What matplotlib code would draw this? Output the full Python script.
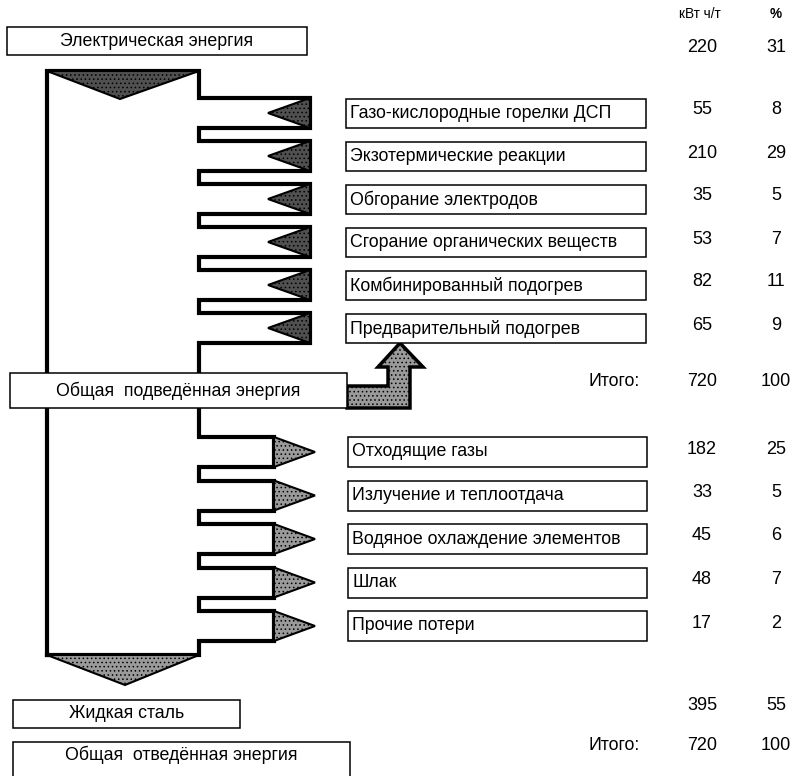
import matplotlib.pyplot as plt
from matplotlib.patches import Polygon, Rectangle

plt.rcParams['font.family'] = ['Liberation Sans', 'DejaVu Sans']
plt.rcParams['hatch.linewidth'] = 0.6

# ─── data ─────────────────────────────────────────────
col_headers = ['кВт ч/т', '%']
src_label = 'Электрическая энергия'
src_kwh, src_pct = 220, 31

in_labels = ['Газо-кислородные горелки ДСП', 'Экзотермические реакции',
             'Обгорание электродов', 'Сгорание органических веществ',
             'Комбинированный подогрев', 'Предварительный подогрев']
in_kwh = [55, 210, 35, 53, 82, 65]
in_pct = [8, 29, 5, 7, 11, 9]
in_total_label = 'Общая  подведённая энергия'
in_total_kwh, in_total_pct = 720, 100

out_labels = ['Отходящие газы', 'Излучение и теплоотдача',
              'Водяное охлаждение элементов', 'Шлак', 'Прочие потери']
out_kwh = [182, 33, 45, 48, 17]
out_pct = [25, 5, 6, 7, 2]
steel_label = 'Жидкая сталь'
steel_kwh, steel_pct = 395, 55
out_total_label = 'Общая  отведённая энергия'
out_total_kwh, out_total_pct = 720, 100

# ─── layout (pixels, y down) ──────────────────────────
W, H = 796, 776
L, R, TOP, BOT = 47, 199, 71, 655
IN_Y0, IN_STEP, BR_H = 98, 43, 30
OUT_Y0, OUT_STEP = 437, 43.5
X_IN, X_IN_TIP = 310, 268
X_OUT, X_OUT_TIP = 274, 315
BOX_X0, BOX_X1 = 346, 646
X_KWH, X_PCT = 702, 776
FS, FS_VAL = 12.8, 13
DARK, LIGHT = '#505050', '#9a9a9a'

fig = plt.figure(figsize=(W / 100, H / 100), dpi=100)
ax = fig.add_axes([0, 0, 1, 1])
ax.set_xlim(0, W)
ax.set_ylim(H, 0)
ax.axis('off')


def box(x0, y0, x1, y1, text=None, ha='center', ty=None):
    ax.add_patch(Rectangle((x0, y0), x1 - x0, y1 - y0, facecolor='white',
                           edgecolor='black', lw=1.1, zorder=5))
    if text:
        tx = (x0 + x1) / 2 if ha == 'center' else x0 + 4
        ty = (y0 + y1) / 2 if ty is None else ty
        ax.text(tx, ty, text, ha=ha, va='center', fontsize=FS, zorder=6)


def values(y, kwh, pct, total=False):
    if total:
        ax.text(X_KWH - 62, y, 'Итого:', ha='right', va='center', fontsize=FS)
    ax.text(X_KWH, y, str(kwh), ha='center', va='center', fontsize=FS_VAL)
    ax.text(X_PCT, y, str(pct), ha='center', va='center', fontsize=FS_VAL)


# ─── body outline ─────────────────────────────────────
in_tops = [IN_Y0 + i * IN_STEP for i in range(len(in_labels))]
out_tops = [OUT_Y0 + i * OUT_STEP for i in range(len(out_labels))]

pts = [(L, BOT), (L, TOP), (R, TOP)]
for t in in_tops:
    pts += [(R, t), (X_IN, t), (X_IN, t + BR_H), (R, t + BR_H)]
for t in out_tops:
    pts += [(R, t), (X_OUT, t), (X_OUT, t + BR_H), (R, t + BR_H)]
pts += [(R, BOT), (L, BOT)]
xs, ys = zip(*pts)
ax.plot(xs, ys, color='black', lw=3, solid_joinstyle='miter', zorder=2)

# top and bottom arrows
ax.add_patch(Polygon([(L, TOP), (R, TOP), ((L + R) / 2 - 3, TOP + 28)],
                     facecolor=DARK, edgecolor='black', lw=1.5, hatch='....', zorder=3))
ax.add_patch(Polygon([(L, BOT), (R, BOT), ((L + R) / 2 + 2, BOT + 30)],
                     facecolor=LIGHT, edgecolor='black', lw=1.5, hatch='....', zorder=3))

# incoming arrows + labels
for t, lab, v, p in zip(in_tops, in_labels, in_kwh, in_pct):
    ax.add_patch(Polygon([(X_IN, t), (X_IN, t + BR_H), (X_IN_TIP, t + BR_H / 2)],
                         facecolor=DARK, edgecolor='black', lw=1.5, hatch='....', zorder=3))
    box(BOX_X0, t + 1, BOX_X1, t + BR_H, lab, ha='left')
    values(t + BR_H / 2 - 3, v, p)

# outgoing arrows + labels
for t, lab, v, p in zip(out_tops, out_labels, out_kwh, out_pct):
    ax.add_patch(Polygon([(X_OUT, t), (X_OUT, t + BR_H), (X_OUT_TIP, t + BR_H / 2)],
                         facecolor=LIGHT, edgecolor='black', lw=1.5, hatch='....', zorder=3))
    box(BOX_X0 + 2, t, BOX_X1 + 1, t + BR_H, lab, ha='left')
    values(t + BR_H / 2 - 3, v, p)

# recirculation arrow from the total box up to preheating
ax.add_patch(Polygon([(347, 408), (410, 408), (410, 367), (423, 367), (400, 343),
                      (378, 367), (388, 367), (388, 386), (347, 386)],
                     facecolor=LIGHT, edgecolor='black', lw=2.5, hatch='....', zorder=4))

# header + named boxes
ax.text(X_KWH - 2, 14, col_headers[0], ha='center', va='center', fontsize=FS - 3)
ax.text(X_PCT, 14, col_headers[1], ha='center', va='center', fontsize=FS - 3, fontweight='bold')

box(7, 27, 307, 55, src_label)
values(47, src_kwh, src_pct)

box(10, 373, 347, 408, in_total_label)
values(382, in_total_kwh, in_total_pct, total=True)

box(13, 700, 240, 728, steel_label)
values(706, steel_kwh, steel_pct)

box(13, 742, 350, 790, out_total_label, ty=755)
values(746, out_total_kwh, out_total_pct, total=True)

fig.savefig('out.png', dpi=100, facecolor='white')
